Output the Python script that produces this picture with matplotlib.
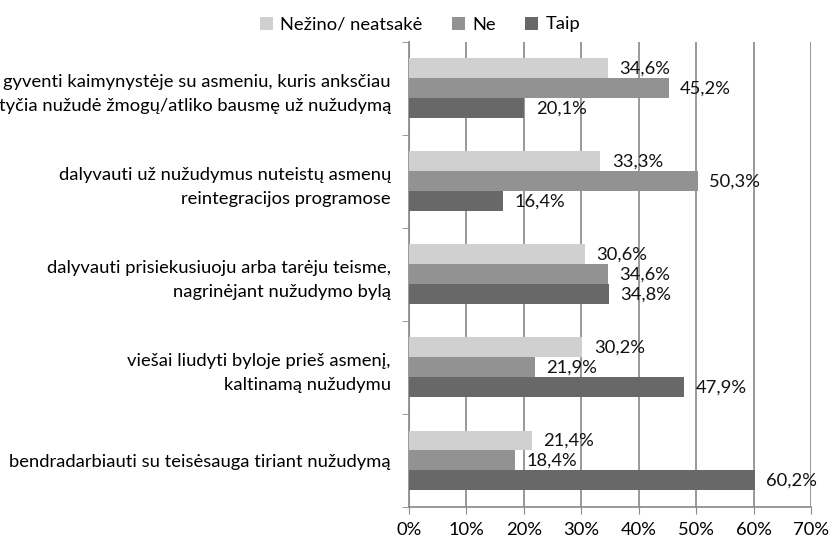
import matplotlib.pyplot as plt
import numpy as np

categories = [
    'gyventi kaimynystėje su asmeniu, kuris anksčiau\ntyčia nužudė žmogų/atliko bausmę už nužudymą',
    'dalyvauti už nužudymus nuteistų asmenų\nreintegracijos programose',
    'dalyvauti prisiekusiuoju arba tarėju teisme,\nnagrinėjant nužudymo bylą',
    'viešai liudyti byloje prieš asmenį,\nkaltinamą nužudymu',
    'bendradarbiauti su teisėsauga tiriant nužudymą',
]
series_names = ['Nežino/ neatsakė', 'Ne', 'Taip']
nezino = [34.6, 33.3, 30.6, 30.2, 21.4]
ne = [45.2, 50.3, 34.6, 21.9, 18.4]
taip = [20.1, 16.4, 34.8, 47.9, 60.2]
colors = ['#d0d0d0', '#929292', '#686868']

plt.rcParams['font.family'] = ['Lato', 'DejaVu Sans']
fs = 13.2

fig = plt.figure(figsize=(8.32, 5.43), dpi=100)
ax = fig.add_axes([0.4916, 0.0663, 0.4832, 0.8564])

n = len(categories)
y = np.arange(n)[::-1].astype(float)  # first category at top
h = 0.215
for k, (vals, name, c) in enumerate(zip([nezino, ne, taip], series_names, colors)):
    yy = y + (1 - k) * h
    ax.barh(yy, vals, height=h, color=c, label=name, zorder=3)
    for yv, v in zip(yy, vals):
        ax.text(v + 2.0, yv, f'{v:.1f}%'.replace('.', ','), va='center', ha='left',
                fontsize=fs, color='#111111', zorder=4)

ax.set_xlim(0, 70)
ax.set_ylim(-0.5, n - 0.5)
ax.set_xticks(np.arange(0, 71, 10))
ax.set_xticklabels([f'{v}%' for v in range(0, 71, 10)], fontsize=fs)
ax.set_yticks(y)
ax.set_yticklabels(categories, fontsize=fs, linespacing=1.65)
ax.set_yticks(np.arange(-0.5, n, 1.0), minor=True)
ax.tick_params(axis='y', which='major', length=0, pad=13)
ax.tick_params(axis='y', which='minor', length=5, color='#888888')
ax.tick_params(axis='x', length=5, color='#888888', pad=6)

ax.grid(axis='x', color='#888888', linewidth=1.2, zorder=0)
for s in ['top', 'right']:
    ax.spines[s].set_visible(False)
for s in ['left', 'bottom']:
    ax.spines[s].set_color('#888888')
    ax.spines[s].set_linewidth(1.2)

handles, labels = ax.get_legend_handles_labels()
fig.legend(handles, labels, loc='upper center', bbox_to_anchor=(0.505, 1.0),
           ncol=3, frameon=False, fontsize=fs, handlelength=0.7, handleheight=0.7,
           handletextpad=0.4, columnspacing=1.6)

fig.savefig('out.png', dpi=100)
